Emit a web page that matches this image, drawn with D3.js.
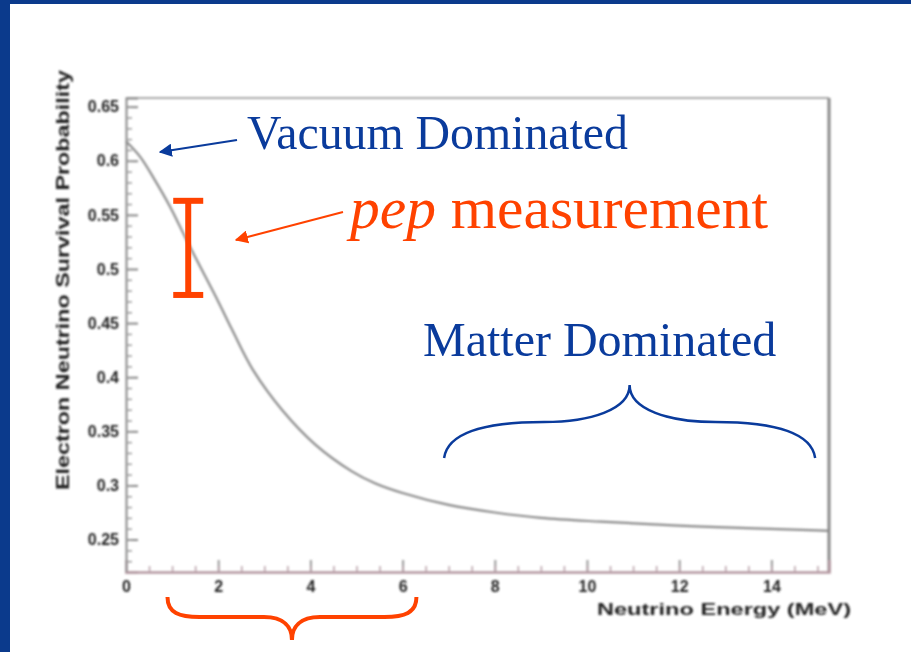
<!DOCTYPE html>
<html>
<head>
<meta charset="utf-8">
<script src="https://cdn.jsdelivr.net/npm/d3@7"></script>
<style>
  html, body { margin: 0; padding: 0; background: #fff; }
  svg { display: block; }
</style>
</head>
<body>
<div id="chart"></div>
<script>
// ---- data ----
const energy = [0, 0.3, 0.6, 0.95, 1.3, 1.6, 2.0, 2.3, 2.75, 3.4, 4.1, 4.9, 5.4, 6, 7, 8, 9, 10.3, 12.5, 15, 15.25];
const survival = [0.618, 0.604, 0.584, 0.558, 0.528, 0.503, 0.470, 0.444, 0.407, 0.369, 0.338, 0.313, 0.302, 0.293, 0.282, 0.275, 0.270, 0.2665, 0.262, 0.2585, 0.258];
const xTicks = [0, 2, 4, 6, 8, 10, 12, 14];
const yTicks = [0.25, 0.3, 0.35, 0.4, 0.45, 0.5, 0.55, 0.6, 0.65];
const pepPoint = [1.35];
const pepLow = [0.476];
const pepHigh = [0.563];
const pepRange = [0.9, 6.3];      // orange brace under the axis
const matterRange = [6.9, 14.95]; // blue brace

const W = 911, H = 652;
const blue = "#0a3b9c", orange = "#ff4200";

const svg = d3.select("#chart").append("svg")
  .attr("width", W)
  .attr("height", H);

// slide frame
svg.append("rect").attr("x", 0).attr("y", 0).attr("width", W).attr("height", 4).attr("fill", "#0b3a8c");
svg.append("rect").attr("x", 0).attr("y", 0).attr("width", 10).attr("height", H).attr("fill", "#0b3a8c");

// scales
const x = d3.scaleLinear().domain([0, 15.25]).range([126, 829]);
const y = d3.scaleLinear().domain([0.22, 0.658]).range([572, 98]);

// blur to mimic the low-res pasted plot
const defs = svg.append("defs");
defs.append("filter").attr("id", "soft")
  .attr("x", "-5%").attr("y", "-5%").attr("width", "110%").attr("height", "110%")
  .append("feGaussianBlur").attr("stdDeviation", 0.9);

const plot = svg.append("g").attr("filter", "url(#soft)");

// frame top and right
plot.append("line").attr("x1", 126).attr("x2", 829).attr("y1", 98).attr("y2", 98)
  .attr("stroke", "#aaa").attr("stroke-width", 2);
plot.append("line").attr("x1", 829).attr("x2", 829).attr("y1", 98).attr("y2", 572)
  .attr("stroke", "#888").attr("stroke-width", 3);

// ---- axes ----
const yAxis = plot.append("g")
  .attr("transform", `translate(${x(0)},0)`)
  .call(d3.axisLeft(y).tickValues(yTicks).tickSize(-12).tickPadding(7)
    .tickFormat(d => d3.format(".2~f")(d)));
yAxis.select(".domain").attr("stroke", "#888").attr("stroke-width", 2);
yAxis.selectAll(".tick line").attr("stroke", "#888").attr("stroke-width", 2);
yAxis.selectAll("text")
  .attr("font-family", "Liberation Sans, Arial, sans-serif")
  .attr("font-size", 16).attr("font-weight", "bold").attr("fill", "#222");

plot.append("g")
  .attr("transform", `translate(${x(0)},0)`)
  .call(d3.axisLeft(y).tickValues(d3.range(0.23, 0.655, 0.01)).tickSize(-6).tickFormat(""))
  .call(g => g.select(".domain").remove())
  .selectAll(".tick line").attr("stroke", "#999").attr("stroke-width", 1.5);

const xAxis = plot.append("g")
  .attr("transform", `translate(0,${y(0.22)})`)
  .call(d3.axisBottom(x).tickValues(xTicks).tickSize(-12).tickPadding(9));
xAxis.select(".domain").attr("stroke", "#b496a0").attr("stroke-width", 2.5);
xAxis.selectAll(".tick line").attr("stroke", "#999").attr("stroke-width", 2);
xAxis.selectAll("text")
  .attr("font-family", "Liberation Sans, Arial, sans-serif")
  .attr("font-size", 16).attr("font-weight", "bold").attr("fill", "#222");

plot.append("g")
  .attr("transform", `translate(0,${y(0.22)})`)
  .call(d3.axisBottom(x).tickValues(d3.range(0.5, 15.2, 0.5)).tickSize(-6).tickFormat(""))
  .call(g => g.select(".domain").remove())
  .selectAll(".tick line").attr("stroke", "#b8a0a8").attr("stroke-width", 1.5);

// axis titles
plot.append("text")
  .attr("transform", "translate(69,280) rotate(-90)")
  .attr("text-anchor", "middle")
  .attr("font-family", "Liberation Sans, Arial, sans-serif")
  .attr("font-size", 18).attr("font-weight", "bold").attr("fill", "#222")
  .attr("textLength", 420).attr("lengthAdjust", "spacingAndGlyphs")
  .text("Electron Neutrino Survival Probability");

plot.append("text")
  .attr("x", 597).attr("y", 615)
  .attr("font-family", "Liberation Sans, Arial, sans-serif")
  .attr("font-size", 17).attr("font-weight", "bold").attr("fill", "#222")
  .attr("textLength", 254).attr("lengthAdjust", "spacingAndGlyphs")
  .text("Neutrino Energy (MeV)");

// survival probability curve
const curveData = energy.map((e, i) => [e, survival[i]]);
plot.append("path")
  .datum(curveData)
  .attr("fill", "none")
  .attr("stroke", "#8a8a8a")
  .attr("stroke-width", 2.2)
  .attr("d", d3.line().x(d => x(d[0])).y(d => y(d[1])).curve(d3.curveCatmullRom.alpha(0.5)));

// ---- annotations ----
function arrowHead(id, color) {
  defs.append("marker").attr("id", id)
    .attr("viewBox", "0 0 10 10").attr("refX", 9).attr("refY", 5)
    .attr("markerWidth", 6).attr("markerHeight", 6)
    .attr("markerUnits", "strokeWidth")
    .attr("orient", "auto")
    .append("path").attr("d", "M0,0 L10,5 L0,10 Z").attr("fill", color);
}
arrowHead("arrBlue", blue);
arrowHead("arrOrange", orange);

svg.append("line")
  .attr("x1", 237).attr("y1", 140).attr("x2", 160).attr("y2", 152)
  .attr("stroke", blue).attr("stroke-width", 2.2)
  .attr("marker-end", "url(#arrBlue)");

svg.append("line")
  .attr("x1", 343).attr("y1", 212).attr("x2", 236).attr("y2", 240)
  .attr("stroke", orange).attr("stroke-width", 2.2)
  .attr("marker-end", "url(#arrOrange)");

svg.append("text")
  .attr("x", 247).attr("y", 149)
  .attr("font-family", "Liberation Serif, Times New Roman, serif")
  .attr("font-size", 47.8).attr("fill", blue)
  .text("Vacuum Dominated");

const pepText = svg.append("text")
  .attr("x", 350).attr("y", 228)
  .attr("font-family", "Liberation Serif, Times New Roman, serif")
  .attr("font-size", 59.5).attr("fill", orange);
pepText.append("tspan").attr("font-style", "italic").text("pep");
pepText.append("tspan").text(" measurement");

svg.append("text")
  .attr("x", 423).attr("y", 356)
  .attr("font-family", "Liberation Serif, Times New Roman, serif")
  .attr("font-size", 48).attr("fill", blue)
  .text("Matter Dominated");

// pep error bar
const pep = svg.append("g").attr("stroke", orange).attr("stroke-width", 6);
pepPoint.forEach((e, i) => {
  const cx = x(e);
  pep.append("line").attr("x1", cx).attr("x2", cx).attr("y1", y(pepHigh[i])).attr("y2", y(pepLow[i]));
  pep.append("line").attr("x1", cx - 15).attr("x2", cx + 15).attr("y1", y(pepHigh[i])).attr("y2", y(pepHigh[i]));
  pep.append("line").attr("x1", cx - 15).attr("x2", cx + 15).attr("y1", y(pepLow[i])).attr("y2", y(pepLow[i]));
});

// braces
function braceDown(x0, x1, yTop, yMid, yTip) {
  const c = (x0 + x1) / 2;
  return `M${x0},${yTop} C${x0},${yMid - 4} ${x0 + 12},${yMid} ${x0 + 32},${yMid}` +
    ` L${c - 28},${yMid} C${c - 8},${yMid} ${c},${yMid + 10} ${c},${yTip}` +
    ` C${c},${yMid + 10} ${c + 8},${yMid} ${c + 28},${yMid}` +
    ` L${x1 - 32},${yMid} C${x1 - 12},${yMid} ${x1},${yMid - 4} ${x1},${yTop}`;
}
svg.append("path")
  .attr("d", braceDown(x(pepRange[0]), x(pepRange[1]), 597, 617, 640))
  .attr("fill", "none").attr("stroke", orange).attr("stroke-width", 4);

function braceUp(x0, x1, yEnd, yMid, yTip) {
  const c = (x0 + x1) / 2;
  return `M${x0},${yEnd} C${x0 + 4},${yMid + 8} ${x0 + 50},${yMid} ${x0 + 100},${yMid}` +
    ` C${c - 40},${yMid} ${c},${yMid - 12} ${c},${yTip}` +
    ` C${c},${yMid - 12} ${c + 40},${yMid} ${x1 - 100},${yMid}` +
    ` C${x1 - 50},${yMid} ${x1 - 4},${yMid + 8} ${x1},${yEnd}`;
}
svg.append("path")
  .attr("d", braceUp(x(matterRange[0]), x(matterRange[1]), 458, 422, 385))
  .attr("fill", "none").attr("stroke", blue).attr("stroke-width", 2.5);
</script>
</body>
</html>
